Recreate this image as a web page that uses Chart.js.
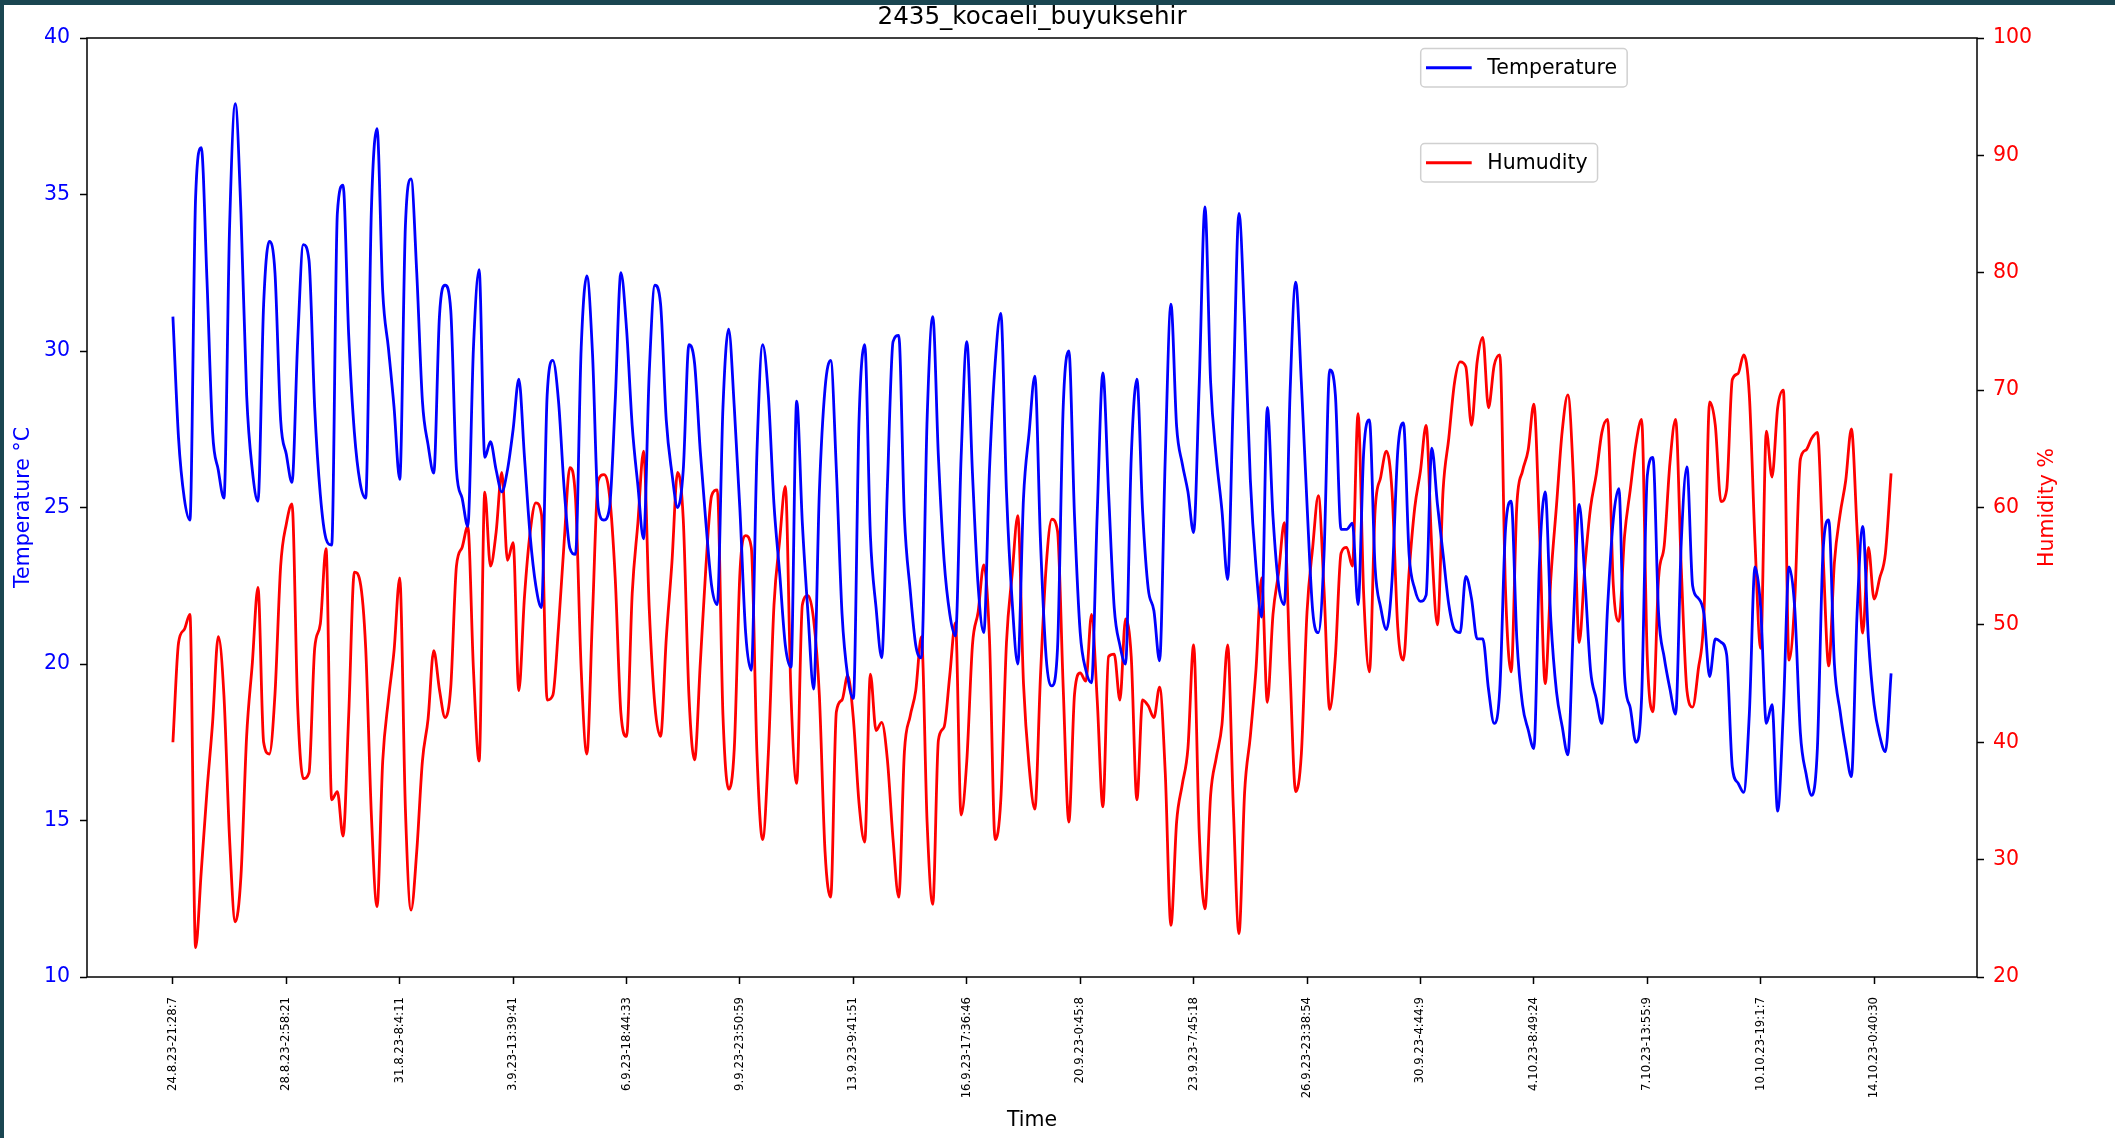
<!DOCTYPE html>
<html><head><meta charset="utf-8">
<script src="https://cdn.jsdelivr.net/npm/chart.js@4.4.1/dist/chart.umd.min.js"></script>
<style>
html,body{margin:0;padding:0;background:#1a4651;width:2115px;height:1138px;overflow:hidden}
#wrap{position:absolute;left:4px;top:5px;width:2111px;height:1133px;background:#fff}
canvas{display:block}
</style></head><body><div id="wrap"><canvas id="c" width="2111" height="1133"></canvas></div>
<script>
const chartTitle = '2435_kocaeli_buyuksehir';
const xAxisTitle = 'Time';
const leftAxisTitle = 'Temperature °C';
const rightAxisTitle = 'Humidity %';
const seriesNames = ['Temperature', 'Humudity'];
const tickEvery = 20;
const tickLabels = ["24.8.23-21:28:7","28.8.23-2:58:21","31.8.23-8:4:11","3.9.23-13:39:41","6.9.23-18:44:33","9.9.23-23:50:59","13.9.23-9:41:51","16.9.23-17:36:46","20.9.23-0:45:8","23.9.23-7:45:18","26.9.23-23:38:54","30.9.23-4:44:9","4.10.23-8:49:24","7.10.23-13:55:9","10.10.23-19:1:7","14.10.23-0:40:30"];
const temperature = [
31.1,27.2,25.3,24.6,34.9,36.5,32.3,27.4,26.2,25.3,
34.0,37.9,34.4,28.6,26.2,25.2,31.5,33.5,32.5,27.8,
26.7,25.8,30.3,33.4,32.9,28.2,25.4,24.0,23.8,34.4,
35.3,30.5,27.4,25.8,25.3,34.5,37.1,31.9,30.1,28.2,
25.9,34.0,35.5,32.5,28.4,27.0,26.1,31.1,32.1,31.3,
26.2,25.3,24.4,30.1,32.6,26.6,27.1,26.2,25.5,26.2,
27.5,29.1,26.6,24.1,22.5,21.8,28.6,29.7,28.4,25.6,
23.7,23.5,30.1,32.4,29.9,25.0,24.6,25.0,28.4,32.5,
30.7,27.6,25.7,24.0,29.3,32.1,31.5,27.8,26.1,25.0,
26.2,30.2,29.6,26.8,24.5,22.5,21.9,28.2,30.7,28.2,
24.9,21.0,19.8,26.8,30.2,28.6,25.1,22.9,20.6,19.9,
28.4,24.5,21.6,19.2,25.5,28.8,29.7,26.2,21.6,19.6,
18.9,27.8,30.2,24.1,21.8,20.2,25.7,30.3,30.5,24.7,
22.4,20.6,20.2,27.8,31.1,26.6,23.3,21.6,20.9,26.6,
30.3,26.1,22.5,21.0,26.2,29.6,31.2,25.5,22.0,20.0,
25.3,27.4,29.2,23.9,20.2,19.3,20.5,28.2,30.0,24.7,
21.0,19.8,19.4,24.8,29.3,25.5,21.8,20.6,20.0,26.6,
29.1,24.9,22.4,21.7,20.1,26.6,31.5,27.6,26.4,25.5,
24.2,29.0,34.6,29.0,26.6,24.9,22.7,28.6,34.4,30.9,
25.9,23.1,21.5,28.2,24.7,22.5,21.9,28.6,32.2,29.0,
25.1,21.7,21.0,23.5,29.4,28.6,24.3,24.3,24.5,21.9,
26.8,27.8,23.1,21.8,21.1,22.7,26.8,27.7,23.5,22.4,
22.0,22.2,26.9,25.1,23.5,21.9,21.1,21.0,22.8,22.1,
20.8,20.8,19.2,18.1,19.2,24.3,25.2,20.8,18.7,17.9,
17.3,23.3,25.5,21.4,19.1,18.0,17.1,21.4,25.1,22.7,
19.8,18.9,18.1,21.8,24.6,25.6,19.6,18.6,17.5,18.9,
26.0,26.6,21.6,20.2,19.2,18.4,23.9,26.3,22.5,22.1,
21.6,19.6,20.8,20.7,20.3,16.7,16.2,15.9,18.4,23.1,
21.8,18.1,18.7,15.3,18.5,23.1,21.8,17.8,16.5,15.8,
17.3,23.6,24.6,20.0,18.5,17.3,16.4,21.6,24.4,20.8,
18.7,17.7,17.2,19.7];
const humidity = [
40.0,48.5,49.6,50.9,22.5,29.0,35.8,41.7,49.0,44.0,
31.7,24.7,28.6,40.5,46.7,53.2,40.0,39.0,44.1,55.0,
58.6,60.3,43.1,36.9,37.4,48.0,50.1,56.5,35.1,35.8,
32.0,42.3,54.5,53.7,48.0,33.8,26.0,38.4,43.6,47.8,
54.0,34.3,25.7,30.7,38.4,42.0,47.8,44.5,42.1,44.7,
55.0,56.6,58.4,46.2,38.4,61.3,55.0,57.9,63.0,55.5,
57.0,44.4,52.4,57.9,60.4,59.4,43.6,44.0,49.8,57.1,
63.4,60.8,46.2,39.0,50.9,62.3,62.8,61.0,54.0,42.5,
40.5,52.7,58.7,64.8,51.4,43.1,40.5,48.8,55.3,63.0,
59.0,44.0,38.5,46.7,55.0,61.0,61.5,42.3,36.0,39.5,
54.5,57.6,56.6,39.0,31.7,39.0,51.7,57.2,61.8,44.0,
36.5,51.7,52.5,50.4,44.0,30.7,26.8,42.6,43.6,45.7,
42.0,34.8,31.5,45.8,41.0,41.7,38.5,31.7,26.8,39.2,
42.2,44.4,49.0,33.2,26.2,40.2,41.3,45.7,50.2,33.8,
38.4,48.3,51.1,55.1,48.8,31.7,35.1,48.5,54.3,59.3,
45.0,37.9,34.3,45.7,55.0,59.0,58.0,44.7,33.2,44.1,
45.9,45.2,50.9,43.6,34.5,47.3,47.5,43.6,50.5,47.3,
35.1,43.6,43.1,42.1,44.7,37.4,24.4,33.2,36.4,39.5,
48.3,32.2,25.8,35.5,38.7,41.5,48.3,34.5,23.7,35.8,
40.5,46.2,54.0,43.4,50.9,54.5,58.7,46.2,35.8,39.0,
51.1,56.6,61.0,53.0,42.8,47.3,56.1,56.6,55.0,68.0,
52.5,46.0,59.7,62.6,64.8,61.3,49.8,47.0,54.5,60.0,
63.1,67.0,56.6,50.0,61.5,65.9,70.6,72.4,72.0,67.0,
72.4,74.5,68.5,72.1,73.0,53.0,46.0,60.2,63.1,64.9,
68.8,58.1,45.0,54.0,60.2,66.5,69.6,62.3,48.5,55.0,
60.0,62.8,66.4,67.5,53.5,50.3,57.6,61.5,65.4,67.5,
47.3,42.6,54.0,56.8,63.8,67.5,54.8,44.4,43.0,46.2,
50.9,69.0,67.0,60.5,61.5,70.9,71.4,73.0,69.6,57.1,
48.0,66.5,62.6,68.5,70.0,47.0,52.0,64.1,64.9,65.9,
66.4,56.1,46.5,55.3,59.4,62.3,66.7,58.1,49.3,56.6,
52.2,54.0,56.1,62.9];

const N = temperature.length;
const idx = Array.from({length: N}, (_, i) => i);
const margin = 0.05 * (N - 1);
const FONT = 'DejaVu Sans';
Chart.defaults.font.family = FONT;

const extras = {
  id: 'extras',
  afterDraw(chart) {
    const {ctx, chartArea: a} = chart;
    ctx.save();
    ctx.strokeStyle = '#000'; ctx.lineWidth = 1.5;
    ctx.strokeRect(a.left, a.top, a.right - a.left, a.bottom - a.top);
    ctx.restore();
    ctx.save();
    ctx.translate(2044, (a.top + a.bottom) / 2);
    ctx.rotate(-Math.PI / 2);
    ctx.fillStyle = '#ff0000';
    ctx.font = '20.5px "' + FONT + '"';
    ctx.textAlign = 'center'; ctx.textBaseline = 'middle';
    ctx.fillText(rightAxisTitle, 0, 0);
    ctx.restore();
    const boxes = [{ds: 0, x: 1416.7, y: 43.5}, {ds: 1, x: 1416.7, y: 138.5}];
    boxes.forEach(b => {
      const d = chart.data.datasets[b.ds];
      ctx.save();
      ctx.font = '20.5px "' + FONT + '"';
      const tw = ctx.measureText(d.label).width;
      const w = 66.6 + tw + 10, h = 38.5;
      ctx.beginPath();
      if (ctx.roundRect) ctx.roundRect(b.x, b.y, w, h, 4); else ctx.rect(b.x, b.y, w, h);
      ctx.fillStyle = 'rgba(255,255,255,0.85)'; ctx.fill();
      ctx.strokeStyle = '#d0d0d0'; ctx.lineWidth = 1.5; ctx.stroke();
      ctx.beginPath();
      ctx.moveTo(b.x + 5.3, b.y + h / 2); ctx.lineTo(b.x + 51, b.y + h / 2);
      ctx.strokeStyle = d.borderColor; ctx.lineWidth = 2.8; ctx.stroke();
      ctx.fillStyle = '#000'; ctx.textAlign = 'left'; ctx.textBaseline = 'middle';
      ctx.fillText(d.label, b.x + 66.6, b.y + h / 2 + 1);
      ctx.restore();
    });
  }
};

new Chart(document.getElementById('c'), {
  type: 'line',
  data: {
    labels: idx,
    datasets: [
      {label: seriesNames[0], data: temperature, yAxisID: 'y', borderColor: '#0000ff', backgroundColor: '#0000ff', borderWidth: 2.8, pointRadius: 0, cubicInterpolationMode: 'monotone', fill: false},
      {label: seriesNames[1], data: humidity, yAxisID: 'y1', borderColor: '#ff0000', backgroundColor: '#ff0000', borderWidth: 2.8, pointRadius: 0, cubicInterpolationMode: 'monotone', fill: false}
    ]
  },
  options: {
    responsive: false,
    devicePixelRatio: 1,
    animation: false,
    layout: {padding: 0},
    plugins: {
      legend: {display: false},
      tooltip: {enabled: false},
      title: {display: true, text: chartTitle, fullSize: false, color: '#000',
        font: {size: 24.6, weight: 'normal', lineHeight: 1}, padding: {top: 0.8, bottom: 7.6}}
    },
    scales: {
      x: {
        type: 'linear', min: -margin, max: (N - 1) + margin,
        afterBuildTicks: s => { s.ticks = tickLabels.map((_, k) => ({value: k * tickEvery})); },
        afterFit: s => { s.height = 161; },
        ticks: {autoSkip: false, maxRotation: 90, minRotation: 90, padding: 13, color: '#000',
          font: {size: 11.7}, callback: v => tickLabels[Math.round(v / tickEvery)]},
        grid: {display: true, drawOnChartArea: false, drawTicks: true, tickLength: 7, tickColor: '#000', tickWidth: 1.5},
        border: {display: false},
        title: {display: true, text: xAxisTitle, color: '#000', font: {size: 20.5}, padding: {top: 0, bottom: 5}}
      },
      y: {
        position: 'left', min: 10, max: 40,
        afterFit: s => { s.width = 83; },
        ticks: {stepSize: 5, color: '#0000ff', font: {size: 20.5}, padding: 10},
        grid: {display: true, drawOnChartArea: false, drawTicks: true, tickLength: 7, tickColor: '#000', tickWidth: 1.5},
        border: {display: false},
        title: {display: true, text: leftAxisTitle, color: '#0000ff', font: {size: 20.5}, padding: {top: 7, bottom: 0}}
      },
      y1: {
        position: 'right', min: 20, max: 100,
        afterFit: s => { s.width = 138; },
        ticks: {stepSize: 10, color: '#ff0000', font: {size: 20.5}, padding: 9},
        grid: {display: true, drawOnChartArea: false, drawTicks: true, tickLength: 7, tickColor: '#000', tickWidth: 1.5},
        border: {display: false}
      }
    }
  },
  plugins: [extras]
});
</script></body></html>
